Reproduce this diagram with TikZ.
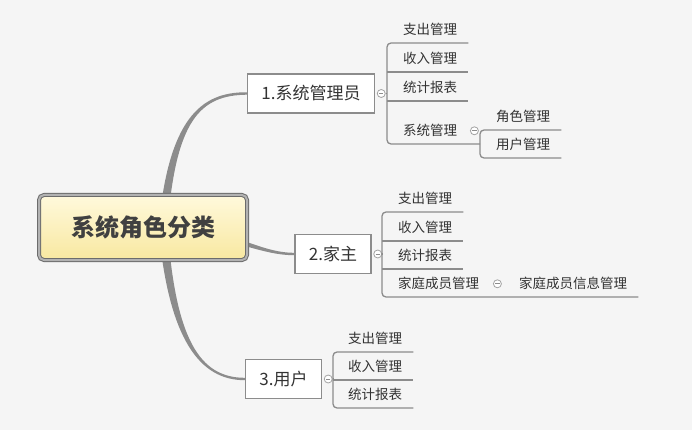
\documentclass[tikz,border=0pt]{standalone}
\usepackage{fontspec}
\setmainfont{Noto Sans CJK SC}
\pgfdeclarelayer{bg}
\pgfsetlayers{bg,main}
\definecolor{rolebg}{HTML}{F5F5F5}
\definecolor{roleline}{HTML}{8C8C8C}
\definecolor{roletext}{HTML}{333333}
\definecolor{roletop}{HTML}{FFF9DC}
\definecolor{rolebottom}{HTML}{F8E8A0}

\begin{document}
\begin{tikzpicture}[
  x=1pt, y=-1pt,
  rolecentral/.style = {rounded corners=5pt, minimum width=208pt, minimum height=65pt,
    top color=roletop, bottom color=rolebottom, draw=gray!85!black,
    double=gray!60, double distance=2pt, line width=1pt,
    font=\fontsize{24}{28}\selectfont\bfseries, text=black!75},
  rolebranch/.style = {draw=roleline, line width=1.3pt, fill=white, minimum height=39pt,
    inner xsep=14pt, font=\fontsize{17}{20}\selectfont, text=roletext},
  roleleaf/.style = {anchor=south west, inner xsep=0pt, inner ysep=0pt, minimum height=26pt,
    font=\fontsize{13.5}{16}\selectfont, text=roletext},
  rolefold/.style = {circle, draw=roleline!80, line width=0.8pt, fill=white, minimum size=8pt, inner sep=0pt,
    path picture={\draw[roleline, line width=0.8pt] ([xshift=-2.2pt]path picture bounding box.center)
      -- ([xshift=2.2pt]path picture bounding box.center);}},
  rolelink/.style = {fill=roleline},
  rolebar/.style = {draw=roleline, line width=1.3pt, rounded corners=4pt}
]
  \useasboundingbox (0,0) rectangle (692,430);
  % 中心主题
  \node[rolecentral] (root) at (143,227.5) {系统角色分类};
  % 三个角色
  \node[rolebranch] (r1) at (311,93.5) {1.系统管理员};
  \node[rolebranch] (r2) at (333,254) {2.家主};
  \node[rolebranch] (r3) at (283.5,379) {3.用户};
  \node[rolefold] (f1) at ([xshift=6pt]r1.east) {};
  \node[rolefold] (f2) at ([xshift=6pt]r2.east) {};
  \node[rolefold] (f3) at ([xshift=6pt]r3.east) {};
  \coordinate (k1) at (387,93.5);
  \coordinate (k2) at (382,254);
  \coordinate (k3) at (333,379);
  % 系统管理员
  \node[roleleaf] (s11) at (403,43) {支出管理};
  \node[roleleaf] (s12) at (403,72) {收入管理};
  \node[roleleaf] (s13) at (403,101) {统计报表};
  \node[roleleaf] (s14) at (403,144) {系统管理};
  \node[rolefold] (f14) at ([xshift=17pt]s14.east) {};
  \coordinate (k14) at (480,144);
  \node[roleleaf] (s15) at (496,130) {角色管理};
  \node[roleleaf] (s16) at (496,158) {用户管理};
  % 家主
  \node[roleleaf] (s21) at (398,212) {支出管理};
  \node[roleleaf] (s22) at (398,241) {收入管理};
  \node[roleleaf] (s23) at (398,269) {统计报表};
  \node[roleleaf] (s24) at (398,297) {家庭成员管理};
  \node[rolefold] (f24) at ([xshift=18pt]s24.east) {};
  \node[roleleaf] (s25) at (519,297) {家庭成员信息管理};
  % 用户
  \node[roleleaf] (s31) at (348,352) {支出管理};
  \node[roleleaf] (s32) at (348,380) {收入管理};
  \node[roleleaf] (s33) at (348,408) {统计报表};

  \begin{pgfonlayer}{bg}
    \fill[rolebg] (0,0) rectangle (692,430);
    % 渐细的主干
    \fill[rolelink] ([xshift=15.5pt]root.center) .. controls (168.5,120) and (200,91.8) .. ([yshift=1.2pt]r1.west)
      -- ([yshift=-1.2pt]r1.west) .. controls (200,95.2) and (175.5,120) .. ([xshift=24.5pt]root.center) -- cycle;
    \fill[rolelink] ([xshift=20pt,yshift=4.5pt]root.center) .. controls (232,228.5) and (258,252.8) .. ([yshift=1.2pt]r2.west)
      -- ([yshift=-1.2pt]r2.west) .. controls (258,255.2) and (232,235.5) .. ([xshift=20pt,yshift=-4.5pt]root.center) -- cycle;
    \fill[rolelink] ([xshift=15.5pt]root.center) .. controls (168.5,340) and (200,380.2) .. ([yshift=-1.2pt]r3.west)
      -- ([yshift=1.2pt]r3.west) .. controls (200,377.8) and (175.5,340) .. ([xshift=24.5pt]root.center) -- cycle;
  \end{pgfonlayer}

  % 连线
  \draw[rolebar] (f1) -- (k1);
  \draw[rolebar] ([xshift=11pt]s11.south east) -- (s11.south west -| k1)
    -- (s14.south west -| k1) -- (k14);
  \draw[rolebar] (s12.south west -| k1) -- ([xshift=11pt]s12.south east);
  \draw[rolebar] (s13.south west -| k1) -- ([xshift=11pt]s13.south east);
  \draw[rolebar] ([xshift=11pt]s15.south east) -- (s15.south west -| k14)
    -- (s16.south west -| k14) -- ([xshift=11pt]s16.south east);
  \draw[rolebar] (f2) -- (k2);
  \draw[rolebar] ([xshift=11pt]s21.south east) -- (s21.south west -| k2)
    -- (s24.south west -| k2) -- ([xshift=11pt]s25.south east);
  \draw[rolebar] (s22.south west -| k2) -- ([xshift=11pt]s22.south east);
  \draw[rolebar] (s23.south west -| k2) -- ([xshift=11pt]s23.south east);
  \draw[rolebar] (f3) -- (k3);
  \draw[rolebar] ([xshift=11pt]s31.south east) -- (s31.south west -| k3)
    -- (s33.south west -| k3) -- ([xshift=11pt]s33.south east);
  \draw[rolebar] (s32.south west -| k3) -- ([xshift=11pt]s32.south east);
\end{tikzpicture}
\end{document}
